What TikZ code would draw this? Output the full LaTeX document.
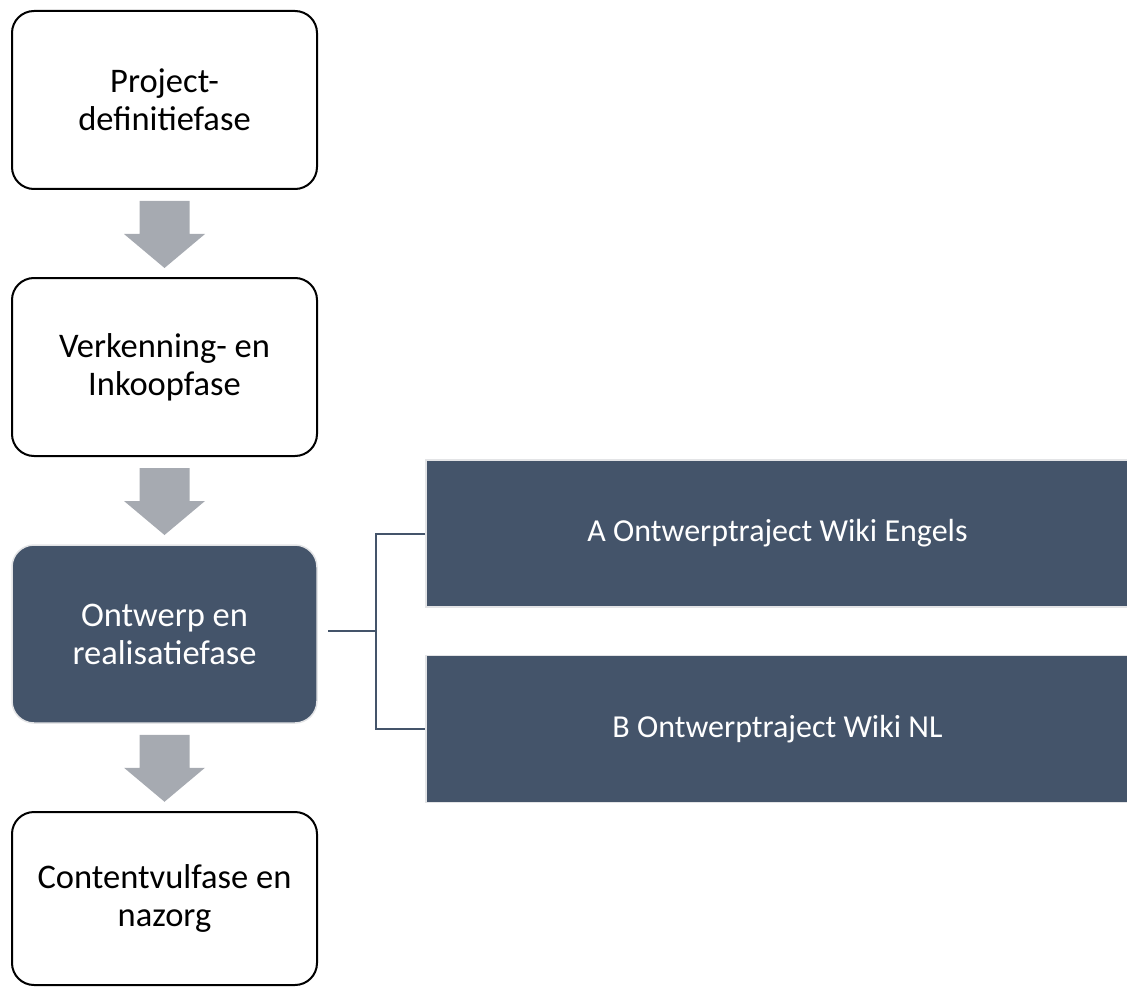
\documentclass[tikz,border=0pt]{standalone}
\usepackage{fontspec}
\setmainfont{Carlito}
\definecolor{slate}{HTML}{44546A}
\definecolor{arrowgray}{HTML}{A6AAB1}
\definecolor{edgegray}{HTML}{E3E4E6}
\begin{document}
\begin{tikzpicture}[x=1pt,y=-1pt,
  phase/.style={draw=black, line width=2pt, rounded corners=22pt, fill=white,
    minimum width=305pt, minimum height=178pt, align=center, inner sep=0pt,
    font=\fontsize{34.5}{38}\selectfont},
  darkphase/.style={phase, draw=edgegray, line width=1.5pt, fill=slate, text=white},
  track/.style={draw=edgegray, line width=1.5pt, fill=slate, text=white,
    minimum width=703pt, minimum height=147pt, inner sep=0pt,
    font=\fontsize{32}{38}\selectfont},
  flow/.style={fill=arrowgray, draw=none},
  link/.style={draw=slate, line width=2pt}]
\useasboundingbox (0,0) rectangle (1127,987);
\node[phase] (p1) at (164.5,100) {Project-\\definitiefase};
\node[phase] (p2) at (164.5,367) {Verkenning- en\\Inkoopfase};
\node[darkphase] (p3) at (164.5,634) {Ontwerp en\\realisatiefase};
\node[phase, minimum height=173pt] (p4) at (164.5,898.5) {Contentvulfase en\\nazorg};
% block arrows between consecutive phases, starting 11pt below each box
\foreach \src in {p1,p2,p3}{
  \coordinate (t) at ([yshift=-11pt]\src.south);
  \fill[flow] ([xshift=-25pt]t) -- ([xshift=25pt]t) -- ([xshift=25pt,yshift=-33pt]t)
    -- ([xshift=40.5pt,yshift=-33pt]t) -- ([yshift=-67pt]t) -- ([xshift=-40.5pt,yshift=-33pt]t)
    -- ([xshift=-25pt,yshift=-33pt]t) -- cycle;
}
\node[track] (ta) at (777.5,533.5) {A Ontwerptraject Wiki Engels};
\node[track] (tb) at (777.5,729) {B Ontwerptraject Wiki NL};
\coordinate (fork) at (376,631);
\draw[link] (328,631) -- (fork);
\draw[link] (ta.west) -| (fork) |- (tb.west);
\end{tikzpicture}
\end{document}
